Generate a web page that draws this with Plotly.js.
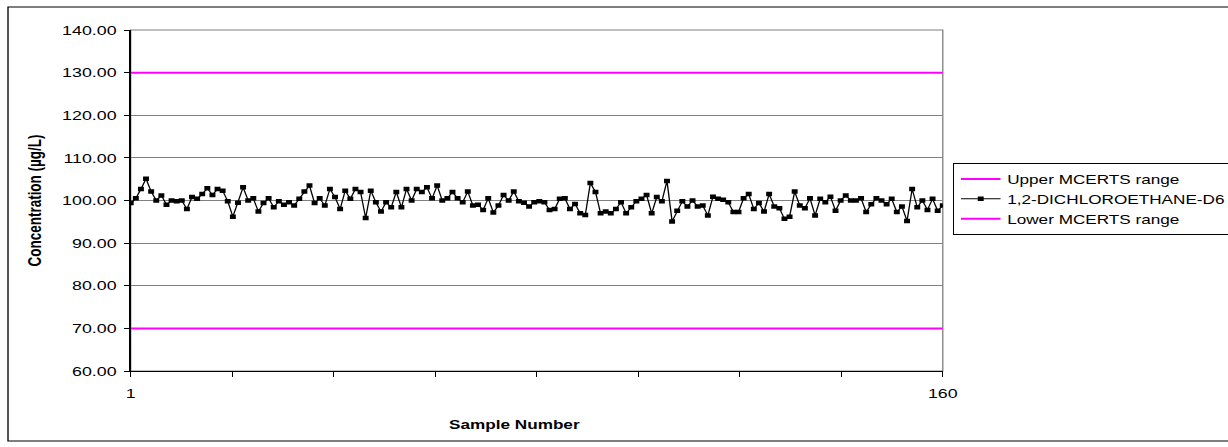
<!DOCTYPE html>
<html>
<head>
<meta charset="utf-8">
<script src="https://cdn.plot.ly/plotly-3.0.1.min.js"></script>
<style>
html,body{margin:0;padding:0;background:#fff;overflow:hidden;width:1228px;height:447px;}
#chart{width:930px;height:447px;transform-origin:0 0;}
</style>
</head>
<body>
<div id="chart"></div>
<script>
// ---- data ----
const seriesName = "1,2-DICHLOROETHANE-D6";
const upperName = "Upper MCERTS range";
const lowerName = "Lower MCERTS range";
const xTitle = "Sample Number";
const yTitle = "Concentration (µg/L)";
const upperLimit = 130;
const lowerLimit = 70;
const concentration = [
  99.4,100.5,102.7,105.1,102.1,100,101.2,99,100,99.8,100,98,100.8,100.4,101.5,102.9,101.3,102.7,102.3,99.8,96.2,99.5,103.1,100,100.5,97.4,99.4,100.5,
  98.4,99.8,99,99.6,98.8,100.4,102.1,103.5,99.4,100.5,98.8,102.7,100.8,98,102.3,100.4,102.7,102,95.9,102.3,99.6,97.4,99.6,98.4,102,98.4,102.7,
  100,102.7,102,103.1,100.5,103.5,100,100.5,102,100.5,99.6,102.1,98.8,99,97.8,100.5,97.2,98.8,101.3,100,102.1,99.8,99.5,98.6,99.6,99.8,99.6,97.8,
  98,100.4,100.5,98,99.2,97,96.6,104.1,102,97,97.4,97,98,99.6,97,98.4,99.8,100.4,101.3,97,100.8,99.8,104.6,95.1,97.6,99.8,98.6,
  100,98.6,98.8,96.5,100.9,100.4,100.2,99.6,97.3,97.3,100.5,101.5,98,99.4,97.4,101.5,98.6,98.2,95.7,96.2,102.1,98.8,98.2,100.5,96.5,100.4,99.6,100.9,
  97.6,100,101.2,100,100,100.5,97.3,99.1,100.5,100,99.1,100.4,97.3,98.6,95.2,102.7,98.4,100,97.8,100.4,97.6,98.8
];
const sampleNumbers = concentration.map((_, i) => i + 1);
const upperValues = sampleNumbers.map(() => upperLimit);
const lowerValues = sampleNumbers.map(() => lowerLimit);
const yTickVals = [60,70,80,90,100,110,120,130,140];
const xFirst = 1, xLast = 160, xTickCount = 8;

// ---- chart ----
const FONT = "Liberation Sans, Arial, sans-serif";
const W0 = 930, H = 447;
const S = 1228 / W0;              // horizontal stretch of the original rendering
document.getElementById("chart").style.transform = "scaleX(" + S + ")";

const xTickVals = [], xTickText = [];
for (let k = 0; k <= xTickCount; k++) {
  xTickVals.push(xFirst + k * (xLast - xFirst) / xTickCount);
  xTickText.push(k === 0 ? String(xFirst) : (k === xTickCount ? String(xLast) : ""));
}

const traces = [
  {x: sampleNumbers, y: upperValues, name: upperName, mode: "lines",
   line: {color: "#FF00FF", width: 2}},
  {x: sampleNumbers, y: concentration, name: seriesName, mode: "lines+markers",
   line: {color: "#000000", width: 1},
   marker: {symbol: "square", size: 4.5, color: "#000000"}},
  {x: sampleNumbers, y: lowerValues, name: lowerName, mode: "lines",
   line: {color: "#FF00FF", width: 2}}
];

const L0 = 99, R0 = 216, T = 30, B = 76;
const pw = W0 - L0 - R0, ph = H - T - B;
const px = v => (v / S - L0) / pw;   // reference pixel -> paper x
const py = v => (H - B - v) / ph;     // reference pixel -> paper y

const layout = {
  width: W0, height: H,
  margin: {l: L0, r: R0, t: T, b: B, pad: 0, autoexpand: false},
  paper_bgcolor: "#ffffff", plot_bgcolor: "#ffffff",
  font: {family: FONT, size: 13, color: "#000"},
  showlegend: true,
  legend: {x: px(953), y: py(163), xanchor: "left", yanchor: "top",
           bordercolor: "#000", borderwidth: 1, bgcolor: "#fff",
           font: {family: FONT, size: 13, color: "#000"},
           tracegroupgap: 0, itemwidth: 30},
  xaxis: {range: [xFirst, xLast], tickmode: "array", tickvals: xTickVals, ticktext: xTickText,
          showgrid: false, zeroline: false, showline: true, linecolor: "#000", linewidth: 1,
          ticks: "outside", ticklen: 5, tickcolor: "#000", tickwidth: 1,
          ticklabelstandoff: 5,
          tickfont: {family: FONT, size: 13.5}},
  yaxis: {range: [60, 140], tickmode: "array", tickvals: yTickVals,
          tickformat: ".2f", showgrid: true, gridcolor: "#808080", gridwidth: 1,
          zeroline: false, showline: true, linecolor: "#000", linewidth: 1,
          ticks: "outside", ticklen: 4, tickcolor: "#000",
          ticklabelstandoff: 3,
          tickfont: {family: FONT, size: 13.5},
          title: {text: "<b>" + yTitle + "</b>", font: {family: FONT, size: 13.5}, standoff: 12}},
  annotations: [
    {text: "<b>" + xTitle + "</b>", xref: "paper", yref: "paper",
     x: px(514), y: py(424), xanchor: "center", yanchor: "middle",
     showarrow: false, font: {family: FONT, size: 13, color: "#000"}}
  ],
  shapes: [
    {type: "rect", xref: "paper", yref: "paper", x0: 0, x1: 1, y0: 0, y1: 1,
     line: {color: "#808080", width: 1}, layer: "below"},
    {type: "rect", xref: "paper", yref: "paper", x0: px(8), x1: px(1240), y0: py(441), y1: py(7),
     line: {color: "#000", width: 1}, layer: "below"}
  ]
};

Plotly.newPlot("chart", traces, layout, {staticPlot: true, displayModeBar: false});
</script>
</body>
</html>
